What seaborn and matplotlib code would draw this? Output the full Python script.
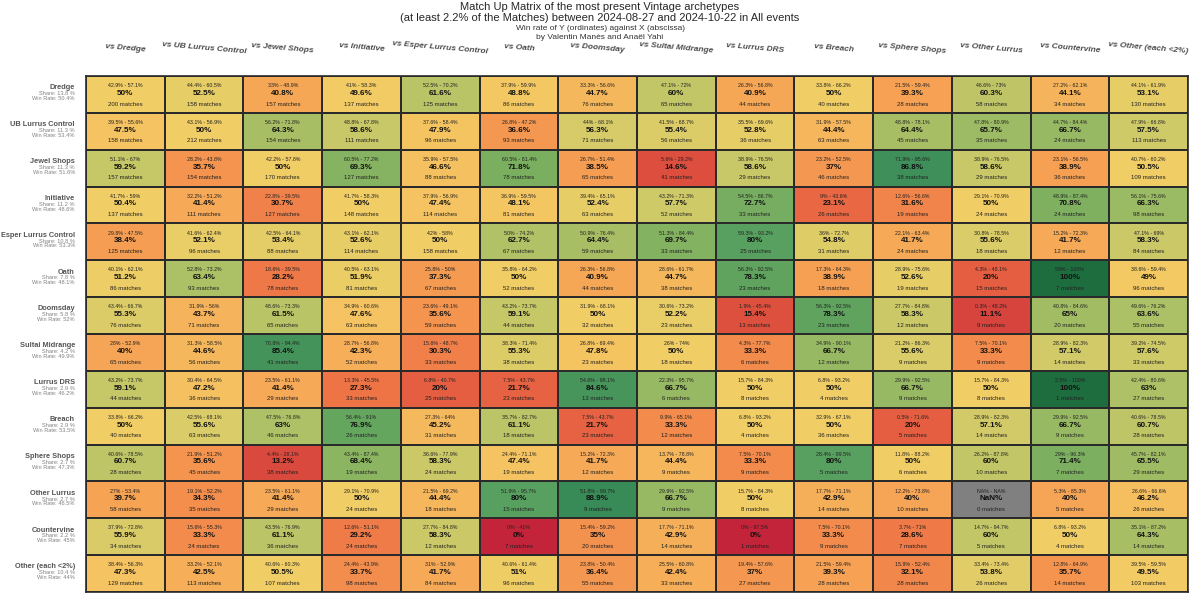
import numpy as np
import pandas as pd
import matplotlib.pyplot as plt
import seaborn as sns
from matplotlib.colors import LinearSegmentedColormap

sns.set_theme(style="white")
plt.rcParams["font.family"] = ["Liberation Sans", "DejaVu Sans"]

# Archetypes (rows = Y, columns = X)
archetypes = ["Dredge", "UB Lurrus Control", "Jewel Shops", "Initiative", "Esper Lurrus Control",
              "Oath", "Doomsday", "Sultai Midrange", "Lurrus DRS", "Breach", "Sphere Shops",
              "Other Lurrus", "Countervine", "Other (each <2%)"]
share = [13.8, 11.3, 11.3, 11.2, 10.8, 7.8, 5.8, 4.2, 2.9, 2.9, 2.7, 2.7, 2.2, 10.4]
overall_wr = ["50.4", "53.4", "51.6", "48.6", "53.3", "48.1", "52", "49.9", "46.2", "53.5",
              "47.3", "46.5", "45", "44"]

# win rate of row vs column (%)
win_rate = [
    [50, 52.5, 40.8, 49.6, 61.6, 48.8, 44.7, 60, 40.9, 50, 39.3, 60.3, 44.1, 53.1],
    [47.5, 50, 64.3, 58.6, 47.9, 36.6, 56.3, 55.4, 52.8, 44.4, 64.4, 65.7, 66.7, 57.5],
    [59.2, 35.7, 50, 69.3, 46.6, 71.8, 38.5, 14.6, 58.6, 37, 86.8, 58.6, 38.9, 50.5],
    [50.4, 41.4, 30.7, 50, 47.4, 48.1, 52.4, 57.7, 72.7, 23.1, 31.6, 50, 70.8, 66.3],
    [38.4, 52.1, 53.4, 52.6, 50, 62.7, 64.4, 69.7, 80, 54.8, 41.7, 55.6, 41.7, 58.3],
    [51.2, 63.4, 28.2, 51.9, 37.3, 50, 40.9, 44.7, 78.3, 38.9, 52.6, 20, 100, 49],
    [55.3, 43.7, 61.5, 47.6, 35.6, 59.1, 50, 52.2, 15.4, 78.3, 58.3, 11.1, 65, 63.6],
    [40, 44.6, 85.4, 42.3, 30.3, 55.3, 47.8, 50, 33.3, 66.7, 55.6, 33.3, 57.1, 57.6],
    [59.1, 47.2, 41.4, 27.3, 20, 21.7, 84.6, 66.7, 50, 50, 66.7, 50, 100, 63],
    [50, 55.6, 63, 76.9, 45.2, 61.1, 21.7, 33.3, 50, 50, 20, 57.1, 66.7, 60.7],
    [60.7, 35.6, 13.2, 68.4, 58.3, 47.4, 41.7, 44.4, 33.3, 80, 50, 60, 71.4, 65.5],
    [39.7, 34.3, 41.4, 50, 44.4, 80, 88.9, 66.7, 50, 42.9, 40, np.nan, 40, 46.2],
    [55.9, 33.3, 61.1, 29.2, 58.3, 0, 35, 42.9, 0, 33.3, 28.6, 60, 50, 64.3],
    [47.3, 42.5, 50.5, 33.7, 41.7, 51, 36.4, 42.4, 37, 39.3, 32.1, 53.8, 35.7, 49.5],
]

# confidence interval bounds (%)
ci_low = [
    [42.9, 44.4, 33, 41, 52.5, 37.9, 33.3, 47.1, 26.3, 33.8, 21.5, 46.6, 27.2, 44.1],
    [39.5, 43.1, 56.2, 48.8, 37.6, 26.8, 44, 41.5, 35.5, 31.9, 48.8, 47.8, 44.7, 47.9],
    [51.1, 28.2, 42.2, 60.5, 35.9, 60.5, 26.7, 5.6, 38.9, 23.2, 71.9, 38.9, 23.1, 40.7],
    [41.7, 32.2, 22.8, 41.7, 37.9, 36.9, 39.4, 43.2, 54.5, 9, 12.6, 29.1, 48.9, 56.1],
    [29.8, 41.6, 42.5, 43.1, 42, 50, 50.9, 51.3, 59.3, 36, 22.1, 30.8, 15.2, 47.1],
    [40.1, 52.8, 18.6, 40.5, 25.8, 35.8, 26.3, 28.6, 56.3, 17.3, 28.9, 4.3, 59, 38.6],
    [43.4, 31.9, 48.6, 34.9, 23.6, 43.2, 31.9, 30.6, 1.9, 56.3, 27.7, 0.3, 40.8, 49.6],
    [28, 31.3, 70.8, 28.7, 15.6, 38.3, 26.8, 26, 4.3, 34.9, 21.2, 7.5, 28.9, 39.2],
    [43.2, 30.4, 23.5, 13.3, 6.8, 7.5, 54.6, 22.3, 15.7, 6.8, 29.9, 15.7, 2.5, 42.4],
    [33.8, 42.5, 47.5, 56.4, 27.3, 35.7, 7.5, 9.9, 6.8, 32.9, 0.5, 28.9, 29.9, 40.6],
    [40.6, 21.9, 4.4, 43.4, 36.6, 24.4, 15.2, 13.7, 7.5, 28.4, 11.8, 26.2, 29, 45.7],
    [27, 19.1, 23.5, 29.1, 21.5, 51.9, 51.8, 29.9, 15.7, 17.7, 12.2, np.nan, 5.3, 26.6],
    [37.9, 15.6, 43.5, 12.6, 27.7, 0, 15.4, 17.7, 0, 7.5, 3.7, 14.7, 6.8, 35.1],
    [38.4, 33.2, 40.6, 24.4, 31, 40.6, 23.8, 25.5, 19.4, 21.5, 15.9, 33.4, 12.8, 39.5],
]
ci_high = [
    [57.1, 60.5, 48.9, 58.3, 70.2, 59.9, 56.6, 72, 56.8, 66.2, 59.4, 73, 62.1, 61.9],
    [55.6, 56.9, 71.8, 67.8, 58.4, 47.2, 68.1, 68.7, 69.6, 57.5, 78.1, 80.9, 84.4, 66.8],
    [67, 43.8, 57.8, 77.2, 57.5, 81.4, 51.4, 29.2, 76.5, 52.5, 95.6, 76.5, 56.5, 60.2],
    [59, 51.2, 39.5, 58.3, 56.9, 59.5, 65.1, 71.3, 86.7, 43.6, 56.6, 70.9, 87.4, 75.6],
    [47.5, 62.4, 64.1, 62.1, 58, 74.2, 76.4, 84.4, 93.2, 72.7, 63.4, 78.5, 72.3, 69],
    [62.1, 73.2, 39.5, 63.1, 50, 64.2, 56.8, 61.7, 92.5, 64.3, 75.6, 48.1, 100, 59.4],
    [66.7, 56, 73.3, 60.6, 49.1, 73.7, 68.1, 73.2, 45.4, 92.5, 84.8, 48.2, 84.6, 76.2],
    [52.9, 58.5, 94.4, 56.8, 48.7, 71.4, 69.4, 74, 77.7, 90.1, 86.3, 70.1, 82.3, 74.5],
    [73.7, 64.5, 61.1, 45.5, 40.7, 43.7, 98.1, 95.7, 84.3, 93.2, 92.5, 84.3, 100, 80.6],
    [66.2, 68.1, 76.8, 91, 64, 82.7, 43.7, 65.1, 93.2, 67.1, 71.6, 82.3, 92.5, 78.5],
    [78.5, 51.2, 28.1, 87.4, 77.9, 71.1, 72.3, 78.8, 70.1, 99.5, 88.2, 87.8, 96.3, 82.1],
    [53.4, 52.2, 61.1, 70.9, 69.2, 95.7, 99.7, 92.5, 84.3, 71.1, 73.8, np.nan, 85.3, 66.6],
    [72.8, 55.3, 76.9, 51.1, 84.8, 41, 59.2, 71.1, 97.5, 70.1, 71, 94.7, 93.2, 87.2],
    [56.3, 52.1, 60.3, 43.9, 52.9, 61.4, 50.4, 60.8, 57.6, 59.4, 52.4, 73.4, 64.9, 59.5],
]

# number of matches
n_matches = [
    [200, 158, 157, 137, 125, 86, 76, 65, 44, 40, 28, 58, 34, 130],
    [158, 212, 154, 111, 96, 93, 71, 56, 36, 63, 45, 35, 24, 113],
    [157, 154, 170, 127, 88, 78, 65, 41, 29, 46, 38, 29, 36, 109],
    [137, 111, 127, 148, 114, 81, 63, 52, 33, 26, 19, 24, 24, 98],
    [125, 96, 88, 114, 158, 67, 59, 33, 25, 31, 24, 18, 12, 84],
    [86, 93, 78, 81, 67, 52, 44, 38, 23, 18, 19, 15, 7, 96],
    [76, 71, 65, 63, 59, 44, 32, 23, 13, 23, 12, 9, 20, 55],
    [65, 56, 41, 52, 33, 38, 23, 18, 6, 12, 9, 9, 14, 33],
    [44, 36, 29, 33, 25, 23, 13, 6, 8, 4, 9, 8, 1, 27],
    [40, 63, 46, 26, 31, 18, 23, 12, 4, 36, 5, 14, 9, 28],
    [28, 45, 38, 19, 24, 19, 12, 9, 9, 5, 6, 10, 7, 29],
    [58, 35, 29, 24, 18, 15, 9, 9, 8, 14, 10, 0, 5, 26],
    [34, 24, 36, 24, 12, 7, 20, 14, 1, 9, 7, 5, 4, 14],
    [129, 113, 107, 98, 84, 96, 55, 33, 27, 28, 28, 26, 14, 103],
]


def fmt(v):
    if np.isnan(v):
        return "NaN"
    return f"{v:g}"


def fmt_ci(v):
    if np.isnan(v):
        return "NA"
    return f"{v:g}"


col_labels = ["vs " + a for a in archetypes]
df = pd.DataFrame(win_rate, index=archetypes, columns=col_labels)

cmap = LinearSegmentedColormap.from_list("wr", [
    (0.00, "#c3243a"), (0.15, "#de4f3e"), (0.25, "#ec6c44"), (0.33, "#f28a4c"),
    (0.40, "#f6a455"), (0.47, "#f5c160"), (0.50, "#f2cd65"), (0.56, "#d9cc68"),
    (0.62, "#b6c367"), (0.70, "#82b260"), (0.80, "#58a05f"), (0.88, "#3b8d58"),
    (1.00, "#1d6d3f")])

fig = plt.figure(figsize=(12, 6), dpi=100)
ax = fig.add_axes([86 / 1200, 8 / 600, 1102 / 1200, 516 / 600])
ax.set_facecolor("#808080")
sns.heatmap(df, ax=ax, cmap=cmap, vmin=0, vmax=100, cbar=False,
            linewidths=1.2, linecolor="#2a2a2a")
for s in ax.spines.values():
    s.set_visible(True)
    s.set_color("#2a2a2a")
    s.set_linewidth(1.2)
ax.set_xticks([])
ax.set_yticks([])
ax.set_xlabel("")
ax.set_ylabel("")

n = len(archetypes)
for i in range(n):
    for j in range(n):
        wr = win_rate[i][j]
        ax.text(j + 0.5, i + 0.26, f"{fmt_ci(ci_low[i][j])}% - {fmt_ci(ci_high[i][j])}%",
                ha="center", va="center", fontsize=3.8, color="#222222")
        ax.text(j + 0.5, i + 0.47, f"{fmt(wr)}%", ha="center", va="center",
                fontsize=5.8, fontweight="bold", color="#111111")
        ax.text(j + 0.5, i + 0.76, f"{n_matches[i][j]} matches", ha="center", va="center",
                fontsize=4.3, color="#222222")

# row labels
for i, name in enumerate(archetypes):
    ax.text(-0.14, i + 0.32, name, ha="right", va="center", fontsize=5.3,
            fontweight="bold", color="#555555")
    ax.text(-0.14, i + 0.48, f"Share: {share[i]:g} %", ha="right", va="center",
            fontsize=4.1, color="#808080")
    ax.text(-0.14, i + 0.61, f"Win Rate: {overall_wr[i]}%", ha="right", va="center",
            fontsize=4.1, color="#808080")

# column labels
for j, lab in enumerate(col_labels):
    ax.text(j + 0.5, -0.76, lab, ha="center", va="center", fontsize=6,
            fontweight="bold", fontstyle="italic", color="#4a4a4a", rotation=-5)

fig.text(0.5, 0.988, "Match Up Matrix of the most present Vintage archetypes",
         ha="center", va="center", fontsize=8)
fig.text(0.5, 0.970, "(at least 2.2% of the Matches) between 2024-08-27 and 2024-10-22 in All events",
         ha="center", va="center", fontsize=8)
fig.text(0.5, 0.952, "Win rate of Y (ordinates) against X (abscissa)",
         ha="center", va="center", fontsize=6, color="#333333")
fig.text(0.5, 0.937, "by Valentin Manès and Anaël Yahi",
         ha="center", va="center", fontsize=6, color="#333333")

fig.savefig("out.png", dpi=100)
